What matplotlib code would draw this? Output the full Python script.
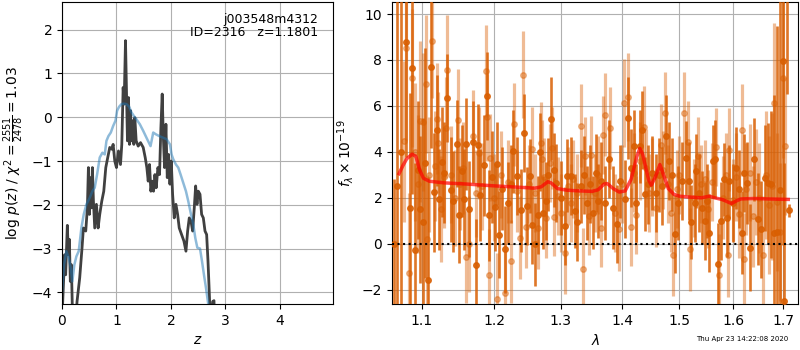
import matplotlib
matplotlib.use('Agg')
import matplotlib.pyplot as plt
from matplotlib.ticker import FixedLocator, FixedFormatter, NullLocator

# --- p(z) panel -------------------------------------------------------
z_pz = [0.00, 0.049, 0.067, 0.098, 0.117, 0.135, 0.153, 0.172, 0.190, 0.233,
        0.276, 0.325, 0.368, 0.393, 0.436, 0.466, 0.485, 0.503, 0.521, 0.540,
        0.558, 0.577, 0.601, 0.632, 0.663, 0.693, 0.730, 0.767, 0.804, 0.840,
        0.877, 0.914, 0.939, 0.969, 1.000, 1.037, 1.074, 1.098, 1.123, 1.141,
        1.166, 1.184, 1.202, 1.221, 1.239, 1.258, 1.276, 1.301, 1.319, 1.337,
        1.362, 1.399, 1.442, 1.491, 1.528, 1.558, 1.583, 1.607, 1.632, 1.656,
        1.681, 1.706, 1.730, 1.761, 1.791, 1.816, 1.840, 1.859, 1.883, 1.908,
        1.933, 1.957, 1.982, 2.006, 2.031, 2.061, 2.092, 2.123, 2.153, 2.196,
        2.239, 2.276, 2.307, 2.337, 2.368, 2.399, 2.429, 2.454, 2.479, 2.503,
        2.534, 2.564, 2.595, 2.626, 2.656, 2.681, 2.706, 2.730, 2.767, 2.791,
        2.810, 3.000, 4.980]
logpz = [-4.6, -3.14, -3.60, -2.47, -3.14, -2.79, -3.75, -3.37, -4.36, -5.0,
         -4.21, -3.67, -2.98, -2.53, -2.60, -2.07, -1.15, -2.22, -1.38, -2.07,
         -1.15, -1.92, -2.53, -1.99, -2.53, -2.22, -1.92, -1.69, -1.15, -0.92,
         -0.69, -0.73, -0.62, -1.00, -1.15, -0.77, -1.08, -0.62, 0.68, 0.30,
         1.75, 0.60, -0.54, 0.45, -0.62, 0.15, -0.54, -0.08, -0.62, -0.01,
         -0.54, -0.66, -0.58, -0.69, -0.92, -1.15, -1.46, -1.08, -1.69, -1.46,
         -1.69, -1.31, -1.61, -1.15, -1.31, -0.24, 0.53, -0.39, -1.15, -0.16,
         -1.38, -0.85, -1.53, -1.00, -1.76, -2.30, -1.99, -2.22, -2.53, -2.68,
         -2.83, -3.06, -2.60, -2.30, -2.37, -2.60, -2.07, -1.57, -1.99, -1.69,
         -1.76, -2.22, -2.30, -2.60, -2.68, -3.29, -4.05, -4.8, -4.21, -4.19,
         -5.5, -7.0, -12.0]

z_prior = [0.000, 0.037, 0.080, 0.123, 0.160, 0.190, 0.227, 0.264, 0.307, 0.356,
           0.399, 0.448, 0.509, 0.558, 0.601, 0.644, 0.693, 0.742, 0.785, 0.816,
           0.853, 0.896, 0.939, 0.982, 1.012, 1.049, 1.092, 1.135, 1.184, 1.233,
           1.276, 1.319, 1.368, 1.429, 1.491, 1.552, 1.626, 1.675, 1.724, 1.785,
           1.859, 1.920, 1.982, 2.012, 2.043, 2.092, 2.135, 2.178, 2.227, 2.276,
           2.319, 2.362, 2.411, 2.448, 2.485, 2.534, 2.571, 2.607, 2.644, 2.687,
           2.730, 3.000, 4.980]
logprior = [-3.98, -3.37, -3.06, -3.21, -3.44, -3.75, -3.37, -3.18, -3.06, -2.53,
            -2.22, -1.99, -1.84, -1.69, -1.61, -1.31, -0.92, -0.81, -0.85, -0.54,
            -0.43, -0.35, -0.20, -0.08, 0.15, 0.24, 0.30, 0.31, 0.30, 0.24,
            0.11, 0.03, -0.05, -0.16, -0.31, -0.47, -0.66, -0.35, -0.39, -0.43,
            -0.47, -0.50, -0.62, -0.85, -0.96, -1.08, -1.15, -1.31, -1.50, -1.69,
            -1.92, -2.18, -2.45, -2.76, -2.98, -3.00, -3.29, -3.60, -3.90, -4.28,
            -4.66, -6.0, -12.0]

# --- spectrum panel ---------------------------------------------------
wave_a = [1.063, 1.068, 1.073, 1.0785, 1.084, 1.0874, 1.0904, 1.095, 1.098, 1.1016,
          1.1043, 1.1083, 1.1115, 1.1163, 1.1195, 1.1231, 1.1272, 1.1299, 1.134, 1.1387,
          1.1423, 1.147, 1.1502, 1.154, 1.1572, 1.1605, 1.1648, 1.1696, 1.1743, 1.1762,
          1.1801, 1.1849, 1.1892, 1.1927, 1.1975, 1.2010, 1.2042, 1.2071, 1.2115, 1.2156,
          1.2204, 1.2240, 1.2278, 1.2328, 1.2392, 1.2441, 1.2486, 1.2526, 1.2561, 1.2602,
          1.2643, 1.2678, 1.2728, 1.2765, 1.2805, 1.2846, 1.2890, 1.2934, 1.3002, 1.3064,
          1.3107, 1.3170, 1.3222, 1.3265, 1.3318, 1.3371, 1.3425, 1.3470, 1.3516, 1.3571,
          1.3598, 1.3654, 1.3708, 1.3779, 1.3846, 1.3919, 1.3969, 1.4041, 1.4097, 1.4155,
          1.4199, 1.4240, 1.4297, 1.4337, 1.4383, 1.4440, 1.4510, 1.4575, 1.4628, 1.4689,
          1.4751, 1.4804, 1.4863, 1.4911, 1.4970, 1.5042, 1.5122, 1.5164, 1.5213, 1.5274,
          1.5305, 1.5356, 1.5408, 1.5459, 1.5509, 1.5552, 1.5613, 1.5658, 1.5707, 1.5771,
          1.5820, 1.5877, 1.5930, 1.5992, 1.6058, 1.6113, 1.6168, 1.6220, 1.6273, 1.6338,
          1.6403, 1.6482, 1.6549, 1.6635, 1.6695, 1.6749, 1.6816, 1.6870, 1.6937, 1.6984,
          1.7019, 1.708, 1.7121]
flux_a = [0.0, 2.5, 4.0, 8.77, 1.57, 7.65, -0.28, 3.2, 1.5, 0.96,
          3.52, -1.6, 7.68, 2.24, 4.93, 1.93, 3.55, 3.09, 6.35, 2.36,
          1.85, 4.35, 1.27, 3.16, 1.93, 4.35, 1.52, 4.43, -0.94, 4.29,
          2.14, 3.42, 6.43, 1.23, 2.9, 1.6, 3.49, 0.40, 2.4, -0.25,
          1.78, 2.6, 4.03, 2.94, 1.46, 4.83, 1.63, 2.94, 0.80, -0.03,
          1.27, 3.98, 1.35, 1.85, 3.01, 5.45, 3.2, 2.65, 2.0, 0.77,
          2.97, 2.94, 1.42, 0.94, 2.5, 3.01, 1.78, 2.6, 1.35, 3.09,
          1.85, 2.72, 1.78, 3.67, 1.57, 0.84, 2.72, 1.93, 5.48, 3.30,
          4.24, 1.78, 4.24, 4.97, 2.17, 2.58, 3.09, 2.2, 3.0, 2.5,
          4.68, 3.59, 3.01, 0.43, 1.78, 2.72, 3.74, 2.72, 0.94, 1.78,
          3.16, 2.2, 1.57, 0.98, 1.85, 0.48, 3.59, 3.67, -0.90, 0.98,
          2.80, 1.13, 2.72, 1.78, 3.30, 2.4, 0.48, 3.09, 2.65, -0.17,
          3.67, 1.06, 0.62, 2.87, 2.65, 2.58, 0.48, 0.50, 2.36, 7.94,
          -2.5, 14.0, 1.45]
err_a = [2.8, 9.0, 9.0, 5.0, 5.0, 5.5, 3.8, 3.0, 3.2, 4.5,
         5.0, 4.5, 3.5, 2.6, 2.4, 2.2, 2.4, 2.2, 1.9, 2.3,
         2.2, 1.9, 2.1, 2.0, 2.2, 2.0, 2.1, 1.8, 2.0, 1.8,
         2.0, 2.2, 1.9, 2.0, 2.0, 1.9, 1.8, 1.9, 1.8, 1.9,
         1.8, 1.7, 1.8, 1.7, 1.8, 1.7, 1.7, 1.6, 1.7, 1.8,
         1.7, 1.7, 1.6, 1.7, 1.6, 1.8, 1.6, 1.7, 1.6, 1.7,
         1.6, 1.7, 1.6, 1.7, 1.6, 1.7, 1.6, 1.7, 1.6, 1.7,
         1.6, 1.7, 1.6, 1.7, 1.8, 1.7, 1.6, 1.7, 1.8, 1.7,
         1.6, 1.7, 1.6, 1.7, 1.6, 1.7, 1.6, 1.7, 1.6, 1.7,
         1.8, 1.7, 1.6, 1.7, 1.6, 1.7, 1.6, 1.7, 1.6, 1.7,
         1.6, 1.7, 1.6, 1.7, 1.6, 1.7, 1.6, 1.7, 1.8, 1.7,
         1.6, 1.7, 1.6, 1.7, 1.8, 1.7, 1.8, 1.7, 1.8, 1.9,
         1.8, 2.0, 2.1, 2.3, 2.6, 3.2, 6.0, 9.0, 10.0, 8.0,
         6.0, 7.5, 0.3]

wave_b = [1.0770, 1.0785, 1.0830, 1.0868, 1.0910, 1.0945, 1.0974, 1.1016, 1.1050, 1.1065,
          1.1100, 1.1136, 1.1170, 1.1195, 1.1215, 1.1250, 1.1290, 1.1327, 1.1341, 1.1398,
          1.1440, 1.1485, 1.1520, 1.1560, 1.1597, 1.1648, 1.1703, 1.1740, 1.1785, 1.1830,
          1.1882, 1.1895, 1.1923, 1.1937, 1.1990, 1.2042, 1.2100, 1.2156, 1.2200, 1.2251,
          1.2290, 1.2330, 1.2377, 1.2426, 1.2462, 1.2510, 1.2553, 1.2600, 1.2653, 1.2693,
          1.2704, 1.2745, 1.2780, 1.2830, 1.2870, 1.2895, 1.2960, 1.3012, 1.3064, 1.3110,
          1.3170, 1.3196, 1.3260, 1.3325, 1.3350, 1.3382, 1.3447, 1.3490, 1.3544, 1.3600,
          1.3654, 1.3675, 1.3720, 1.3790, 1.3874, 1.3940, 1.3990, 1.4029, 1.4097, 1.4155,
          1.4200, 1.4240, 1.4300, 1.4366, 1.4410, 1.4453, 1.4510, 1.4575, 1.4663, 1.4700,
          1.4745, 1.4800, 1.4851, 1.4880, 1.4950, 1.5000, 1.5077, 1.5149, 1.5200, 1.5260,
          1.5330, 1.5400, 1.5460, 1.5520, 1.5590, 1.5677, 1.5740, 1.5800, 1.5860, 1.5897,
          1.5930, 1.6000, 1.6060, 1.6120, 1.6168, 1.6207, 1.6260, 1.6320, 1.6380, 1.6440,
          1.6500, 1.6580, 1.6640, 1.6700, 1.6760, 1.6802, 1.6870, 1.6930, 1.6984, 1.7031]
flux_b = [4.46, 8.52, -1.29, 7.22, 4.0, 2.6, 5.33, 5.30, 6.96, 0.19,
          3.0, 8.83, 3.4, 5.45, 4.39, 1.5, 2.9, 5.06, 7.58, 3.01,
          2.0, 5.40, 2.6, 3.3, -0.58, 0.0, 4.68, 2.2, 3.96, 2.5,
          7.53, 5.50, -1.38, 3.74, 2.0, -2.42, 3.0, -2.16, 2.7, -0.76,
          5.20, 2.3, 0.26, 7.36, 0.74, 2.6, 4.14, 2.2, 0.70, 4.39,
          3.67, 2.9, 1.10, 3.5, 4.17, 1.16, 2.07, 1.35, -0.39, 2.5,
          1.78, 2.80, 2.2, 5.14, -1.12, 3.81, 1.20, 3.88, 2.22, 3.0,
          0.70, 4.75, 5.62, 5.04, 1.35, 0.62, 2.6, 6.13, 6.39, 0.74,
          3.1, 1.27, 3.6, 5.08, 3.3, 2.22, 2.9, 1.57, 4.29, 3.2,
          5.69, 2.6, 1.35, -0.47, 2.4, 3.0, 5.69, 4.42, -0.25, 2.0,
          3.8, 2.6, 2.8, 1.5, 2.7, 4.2, -1.38, 2.0, 3.0, -0.51,
          4.1, 1.9, 2.9, 1.3, 4.97, -0.65, 2.4, 3.1, 1.2, 2.7,
          2.0, -0.5, 3.0, 1.7, 2.5, 6.13, 1.8, 0.5, 7.22, 4.24]
err_b = [3.5, 4.0, 3.5, 3.0, 3.0, 3.0, 3.5, 3.0, 3.0, 2.8,
         2.5, 2.5, 2.4, 2.4, 2.2, 2.3, 2.2, 2.2, 2.4, 2.1,
         2.1, 2.2, 2.0, 2.0, 2.0, 2.1, 2.0, 1.9, 2.0, 1.9,
         2.0, 1.9, 2.0, 1.9, 1.9, 2.0, 1.9, 1.9, 1.8, 1.8,
         1.8, 1.8, 1.8, 1.9, 1.8, 1.7, 1.8, 1.7, 1.8, 1.8,
         1.7, 1.7, 1.7, 1.7, 1.8, 1.7, 1.7, 1.7, 1.8, 1.7,
         1.7, 1.7, 1.7, 1.8, 1.8, 1.7, 1.7, 1.7, 1.7, 1.7,
         1.7, 1.7, 1.8, 1.8, 1.7, 1.8, 1.7, 1.9, 1.9, 1.7,
         1.7, 1.7, 1.7, 1.8, 1.7, 1.7, 1.7, 1.7, 1.8, 1.7,
         1.8, 1.7, 1.7, 1.8, 1.7, 1.7, 1.8, 1.8, 1.8, 1.7,
         1.7, 1.7, 1.7, 1.7, 1.7, 1.7, 1.8, 1.8, 1.8, 1.8,
         1.8, 1.8, 1.9, 1.9, 2.0, 2.0, 2.0, 2.1, 2.2, 2.3,
         2.4, 2.6, 2.8, 3.0, 3.2, 3.5, 3.0, 3.0, 3.5, 3.0]

wave_model = [1.070, 1.075, 1.080, 1.087, 1.092, 1.097, 1.102, 1.110, 1.130, 1.160,
              1.200, 1.230, 1.260, 1.270, 1.280, 1.285, 1.295, 1.310, 1.330, 1.350,
              1.360, 1.370, 1.375, 1.385, 1.395, 1.405, 1.415, 1.425, 1.430, 1.435,
              1.445, 1.450, 1.457, 1.465, 1.470, 1.480, 1.490, 1.500, 1.520, 1.540,
              1.555, 1.565, 1.580, 1.590, 1.597, 1.605, 1.615, 1.640, 1.670, 1.710]
flux_model = [3.05, 3.40, 3.70, 3.90, 3.80, 3.20, 2.85, 2.72, 2.65, 2.60,
              2.52, 2.47, 2.42, 2.48, 2.70, 2.65, 2.40, 2.33, 2.30, 2.28,
              2.35, 2.60, 2.62, 2.40, 2.25, 2.30, 2.80, 3.80, 4.15, 3.90,
              2.80, 2.55, 2.90, 3.45, 3.10, 2.40, 2.15, 2.07, 2.03, 2.00,
              2.07, 2.00, 1.92, 1.82, 1.75, 1.85, 1.95, 1.97, 1.95, 1.93]

wave_ticks = [1.1, 1.2, 1.3, 1.4, 1.5, 1.6, 1.7]
wave_labels = ['1.1', '1.2', '1.3', '1.4', '1.5', '1.6', '1.7']

orange = '#d95f02'

fig = plt.figure(figsize=(8, 3.5), dpi=100)
ax1 = fig.add_axes([0.0775, 0.131, 0.339, 0.863])
ax2 = fig.add_axes([0.49, 0.131, 0.508, 0.863])

# p(z)
ax1.plot(z_pz, logpz, color='0.25', lw=2)
ax1.plot(z_prior, logprior, color='tab:blue', alpha=0.5, lw=1.8)
ax1.set_xlim(0, 4.98)
ax1.set_ylim(-4.27, 2.63)
ax1.set_xticks([0, 1, 2, 3, 4])
ax1.set_yticks([-4, -3, -2, -1, 0, 1, 2])
ax1.grid(True)
ax1.set_xlabel(r'$z$')
ax1.set_ylabel(r'log $p(z)$ / $\chi^2=\frac{2551}{2478}=1.03$')
ax1.text(0.945, 0.965, 'j003548m4312\nID=2316   z=1.1801', ha='right', va='top',
         transform=ax1.transAxes, fontsize=9, linespacing=1.05)

# spectrum
ax2.errorbar(wave_b, flux_b, yerr=err_b, fmt='o', color=orange, alpha=0.42,
             ms=4, elinewidth=2.3, capsize=0, zorder=2)
ax2.errorbar(wave_a, flux_a, yerr=err_a, fmt='o', color=orange, alpha=0.85,
             ms=4, elinewidth=1.9, capsize=0, zorder=3)
ax2.plot(wave_model, flux_model, color='red', alpha=0.7, lw=2.5, zorder=4)
ax2.axhline(0, color='k', ls=':', lw=1.5, zorder=5)

ax2.set_xscale('log')
ax2.set_xlim(1.061, 1.731)
ax2.set_ylim(-2.63, 10.52)
ax2.xaxis.set_major_locator(FixedLocator(wave_ticks))
ax2.xaxis.set_major_formatter(FixedFormatter(wave_labels))
ax2.xaxis.set_minor_locator(NullLocator())
ax2.set_yticks([-2, 0, 2, 4, 6, 8, 10])
ax2.grid(True)
ax2.set_xlabel(r'$\lambda$')
ax2.set_ylabel(r'$f_\lambda\times10^{-19}$')

fig.text(0.985, 0.022, 'Thu Apr 23 14:22:08 2020', ha='right', va='bottom', fontsize=5)

fig.savefig('out.png', dpi=100)
